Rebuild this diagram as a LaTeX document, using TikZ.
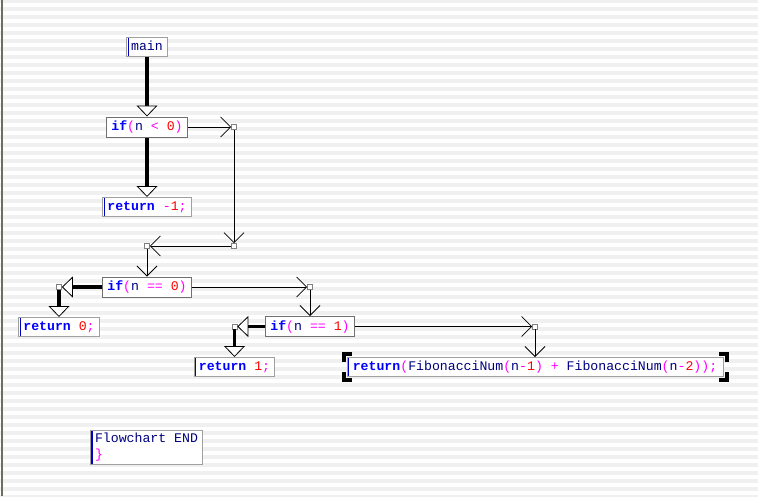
\documentclass[tikz,border=0pt]{standalone}
\usepackage{fontspec}
\setmonofont{Liberation Mono}
\usepackage{xcolor}
\usepackage{tikz}
\usetikzlibrary{arrows.meta,calc}
\definecolor{ckw}{HTML}{0000FF}
\definecolor{cop}{HTML}{FF00FF}
\definecolor{cid}{HTML}{000080}
\definecolor{cnr}{HTML}{FF0000}
\definecolor{stripe}{HTML}{F0F0F0}
\definecolor{frame}{HTML}{A0A0A0}
\definecolor{ifframe}{HTML}{707070}
\definecolor{bar}{HTML}{0000C0}
\definecolor{edge}{HTML}{6E6C5C}
\newcommand{\kwd}[1]{\textcolor{ckw}{\bfseries #1}}
\newcommand{\opr}[1]{\textcolor{cop}{#1}}
\newcommand{\idn}[1]{\textcolor{cid}{#1}}
\newcommand{\nmb}[1]{\textcolor{cnr}{#1}}

\begin{document}
\begin{tikzpicture}[x=1pt,y=-1pt,
 st/.style={draw=frame,fill=white,line width=1pt,font=\ttfamily\fontsize{13.2}{16}\selectfont,inner xsep=4.5pt,inner ysep=1pt,minimum height=19pt,text height=10pt,text depth=3pt,
  path picture={\draw[bar,line width=1.2pt] ([xshift=1.5pt]path picture bounding box.north west) -- ([xshift=1.5pt]path picture bounding box.south west);}},
 cd/.style={draw=ifframe,fill=white,line width=1pt,font=\ttfamily\fontsize{13.2}{16}\selectfont,inner xsep=4.5pt,inner ysep=1pt,minimum height=20pt,text height=10pt,text depth=3pt},
 sq/.style={draw=gray,fill=white,line width=0.7pt,minimum size=5pt,inner sep=0pt},
 thk/.style={line width=3.5pt,-{Triangle[fill=white,line width=0.8pt,length=11pt,width=21pt]}},
 thn/.style={line width=0.8pt,-{Straight Barb[line width=0.8pt,length=10pt,width=20pt]}}
]
\useasboundingbox (0,0) rectangle (758,496);
\fill[white] (0,0) rectangle (758,496);
\foreach \k in {0,...,62} \fill[stripe] (0,8*\k-1) rectangle (758,8*\k+3);
\draw[edge,line width=1.5pt] (2,0) -- (2,496);

\node[st] (main) at (147,46.5) {\idn{main}};
\node[cd] (if1) at (147,127) {\kwd{if}\opr{(}\idn{n} \opr{<} \nmb{0}\opr{)}};
\node[st] (ret1) at (147,207) {\kwd{return} \opr{-}\nmb{1}\opr{;}};
\node[sq] (s1) at (234,127) {};
\node[sq] (s2) at (234,246) {};
\node[sq] (s3) at (147,246) {};
\node[cd] (if2) at (147,287) {\kwd{if}\opr{(}\idn{n} \opr{==} \nmb{0}\opr{)}};
\node[sq] (s4) at (59,287) {};
\node[st] (ret0) at (59,327) {\kwd{return} \nmb{0}\opr{;}};
\node[sq] (s5) at (310,287) {};
\node[cd] (if3) at (310,326.5) {\kwd{if}\opr{(}\idn{n} \opr{==} \nmb{1}\opr{)}};
\node[sq] (s6) at (234.5,326.5) {};
\node[st] (ret2) at (234.5,367) {\kwd{return} \nmb{1}\opr{;}};
\node[sq] (s7) at (535,326.5) {};
\node[st,minimum width=376pt] (ret3) at (535,367) {\kwd{return}\opr{(}\idn{FibonacciNum}\opr{(}\idn{n}\opr{-}\nmb{1}\opr{)} \opr{+} \idn{FibonacciNum}\opr{(}\idn{n}\opr{-}\nmb{2}\opr{));}};
\node[st,align=left,text height={},text depth={},minimum width=109pt,minimum height=34pt] (fin) at (146.5,447) {\idn{Flowchart END}\\\opr{\}}};

\draw[thk] (main) -- (if1);
\draw[thk] (if1) -- (ret1);
\draw[thn] (if1) -- (s1);
\draw[thn] (s1) -- (s2);
\draw[thn] (s2) -- (s3);
\draw[thn] (s3) -- (if2);
\draw[thk] (if2) -- (s4);
\draw[thk] (s4) -- (ret0);
\draw[thn] (if2) -- (s5);
\draw[thn] (s5) -- (if3);
\draw[thk] (if3) -- (s6);
\draw[thk] (s6) -- (ret2);
\draw[thn] (if3) -- (s7);
\draw[thn] (s7) -- (ret3);

% selection marks
\draw[line width=4pt] ($(ret3.north west)+(-3,5)$) -- ++(0,-8) -- ++(8,0);
\draw[line width=4pt] ($(ret3.north east)+(3,5)$) -- ++(0,-8) -- ++(-8,0);
\draw[line width=4pt] ($(ret3.south west)+(-3,-5)$) -- ++(0,8) -- ++(8,0);
\draw[line width=4pt] ($(ret3.south east)+(3,-5)$) -- ++(0,8) -- ++(-8,0);
\end{tikzpicture}
\end{document}
